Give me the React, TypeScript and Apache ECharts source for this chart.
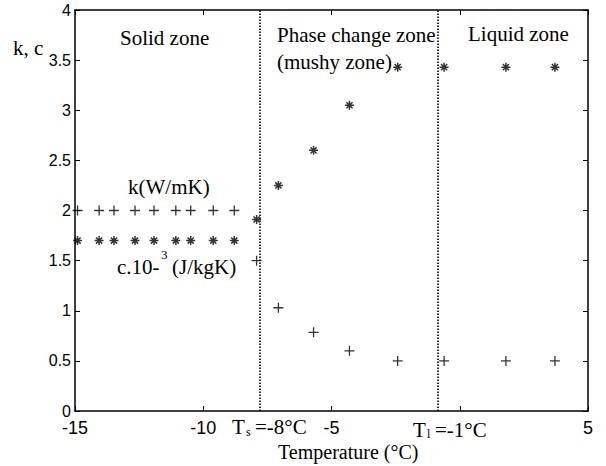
import React, { useEffect, useRef } from "react";
import * as echarts from "echarts";

// Temperatures (°C) at which k and c were evaluated
const temperatures = [
  -14.9, -14.06, -13.48, -12.66, -11.92, -11.07, -10.49, -9.61, -8.79,
  -7.92, -7.07, -5.7, -4.3, -2.42, -0.61, 1.8, 3.71,
];
// Thermal conductivity k (W/mK)
const kValues = [
  2.0, 2.0, 2.0, 2.0, 2.0, 2.0, 2.0, 2.0, 2.0,
  1.5, 1.03, 0.785, 0.6, 0.5, 0.5, 0.5, 0.5,
];
// Specific heat c·10^-3 (J/kgK)
const cValues = [
  1.7, 1.7, 1.7, 1.7, 1.7, 1.7, 1.7, 1.7, 1.7,
  1.91, 2.25, 2.6, 3.05, 3.43, 3.43, 3.43, 3.43,
];
// Zone boundaries drawn as dotted lines
const zoneBounds = [-7.8, -0.85];
const xTicks = { min: -15, max: 5, interval: 5 };
const yTicks = { min: 0, max: 4, interval: 0.5 };

const PLUS = "path://M5,0L5,10M0,5L10,5";
const STAR = "path://M5,0L5,10M0,5L10,5M1.6,1.6L8.4,8.4M8.4,1.6L1.6,8.4";

const SERIF = "Liberation Serif";
const SANS = "Liberation Sans";

export default function App() {
  const ref = useRef<HTMLDivElement>(null);

  useEffect(() => {
    if (!ref.current) return;
    const chart = echarts.init(ref.current, undefined, { renderer: "svg" });
    const axisLine = { show: true, onZero: false, lineStyle: { color: "#000", width: 1.5 } };
    const tick = { show: true, inside: true, length: 5, lineStyle: { color: "#000", width: 1 } };
    // text placed by its left edge (x) and vertical centre (cy)
    const txt = (text: string, x: number, cy: number, size = 21) => ({
      type: "text",
      x,
      y: cy - size / 2,
      style: { text, fontFamily: SERIF, fontSize: size, fill: "#000" },
    });

    chart.setOption({
      animation: false,
      backgroundColor: "#fff",
      grid: { left: 75, right: 18, top: 10, bottom: 55 },
      xAxis: [
        {
          type: "value",
          ...xTicks,
          axisLine,
          axisTick: tick,
          splitLine: { show: false },
          axisLabel: {
            color: "#000",
            fontFamily: SANS,
            fontSize: 18,
            margin: 8,
            formatter: (v: number) => (v === 0 ? "" : String(v)),
          },
        },
        {
          type: "value",
          position: "top",
          ...xTicks,
          axisLine,
          axisTick: tick,
          splitLine: { show: false },
          axisLabel: { show: false },
        },
      ],
      yAxis: [
        {
          type: "value",
          ...yTicks,
          axisLine,
          axisTick: tick,
          splitLine: { show: false },
          axisLabel: {
            color: "#000",
            fontFamily: SANS,
            fontSize: 16,
            margin: 4,
            formatter: (v: number) => String(v),
          },
        },
        {
          type: "value",
          position: "right",
          ...yTicks,
          axisLine,
          axisTick: tick,
          splitLine: { show: false },
          axisLabel: { show: false },
        },
      ],
      series: [
        {
          name: "k",
          type: "scatter",
          data: temperatures.map((t, i) => [t, kValues[i]]),
          symbol: PLUS,
          symbolSize: 10,
          itemStyle: { color: "none", borderColor: "#000", borderWidth: 1.3 },
          markLine: {
            silent: true,
            symbol: "none",
            label: { show: false },
            lineStyle: { color: "#000", type: [1.5, 1.5], width: 1.6 },
            data: zoneBounds.map((x) => ({ xAxis: x })),
          },
        },
        {
          name: "c",
          type: "scatter",
          data: temperatures.map((t, i) => [t, cValues[i]]),
          symbol: STAR,
          symbolSize: 9,
          itemStyle: { color: "none", borderColor: "#000", borderWidth: 1.5 },
        },
      ],
      graphic: [
        txt("k, c", 13, 48),
        txt("Solid zone", 120, 38),
        txt("Phase change zone", 277, 35),
        txt("(mushy zone)", 277, 62),
        txt("Liquid zone", 468, 34),
        txt("k(W/mK)", 128, 187),
        txt("c.10-", 117, 267),
        txt("3", 161, 254, 13),
        txt("(J/kgK)", 172, 267),
        txt("T", 232, 427),
        txt("s", 246, 432, 12),
        txt("=-8°C", 255, 427),
        txt("T", 413, 430),
        txt("l", 427, 434, 12),
        txt("=-1°C", 435, 430),
        txt("Temperature (°C)", 278, 452, 20),
      ],
    });
    return () => chart.dispose();
  }, []);

  return (
    <div
      ref={ref}
      style={{ position: "fixed", left: 0, top: 0, width: 606, height: 466 }}
    />
  );
}
